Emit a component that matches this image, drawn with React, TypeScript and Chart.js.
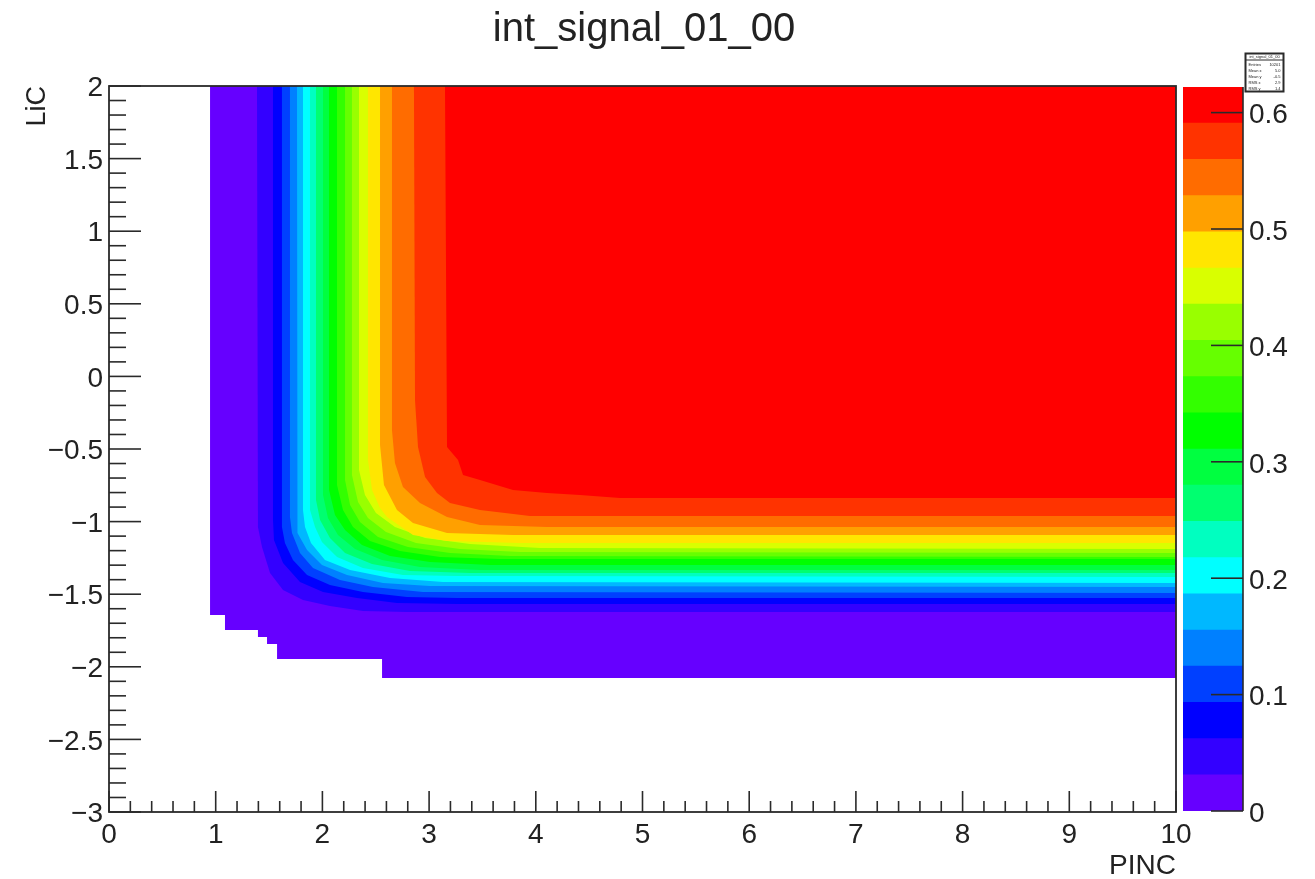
import React, { useEffect, useRef } from "react";
import { Chart, registerables } from "chart.js";

Chart.register(...registerables);

const titleText = "int_signal_01_00";
const xAxisTitle = "PINC";
const yAxisTitle = "LiC";

const xMajorTicks = [0, 1, 2, 3, 4, 5, 6, 7, 8, 9, 10];
const xMinorTicks = [0.2, 0.4, 0.6, 0.8, 1.2, 1.4, 1.6, 1.8, 2.2, 2.4, 2.6, 2.8, 3.2, 3.4, 3.6, 3.8, 4.2, 4.4, 4.6, 4.8, 5.2, 5.4, 5.6, 5.8, 6.2, 6.4, 6.6, 6.8, 7.2, 7.4, 7.6, 7.8, 8.2, 8.4, 8.6, 8.8, 9.2, 9.4, 9.6, 9.8];
const yMajorTicks = [-3, -2.5, -2, -1.5, -1, -0.5, 0, 0.5, 1, 1.5, 2];
const yMinorTicks = [-2.9, -2.8, -2.7, -2.6, -2.4, -2.3, -2.2, -2.1, -1.9, -1.8, -1.7, -1.6, -1.4, -1.3, -1.2, -1.1, -0.9, -0.8, -0.7, -0.6, -0.4, -0.3, -0.2, -0.1, 0.1, 0.2, 0.3, 0.4, 0.6, 0.7, 0.8, 0.9, 1.1, 1.2, 1.3, 1.4, 1.6, 1.7, 1.8, 1.9];
const colorTicks = [0, 0.1, 0.2, 0.3, 0.4, 0.5, 0.6];

const palette = ["#6600ff", "#3300ff", "#0000ff", "#0040ff", "#0080ff", "#00b8ff", "#00ffff", "#00ffc0", "#00ff70", "#00ff40", "#00ff00", "#33ff00", "#66ff00", "#99ff00", "#d9ff00", "#ffe600", "#ffa000", "#ff6c00", "#ff3300", "#ff0000"];
const bandEdges = [0, 0.0311, 0.0622, 0.0933, 0.1244, 0.1555, 0.1866, 0.2177, 0.2488, 0.2799, 0.311, 0.3421, 0.3732, 0.4043, 0.4354, 0.4665, 0.4976, 0.5287, 0.5598, 0.5909, 0.622];

const contour00 = [[0.947, 2], [0.947, -1.643], [1.087, -1.643], [1.087, -1.747], [1.396, -1.747], [1.396, -1.795], [1.481, -1.795], [1.481, -1.843], [1.575, -1.843], [1.575, -1.946], [2.559, -1.946], [2.559, -2.077], [10, -2.077]];
const contour01 = [[1.387, 2], [1.396, -1.037], [1.434, -1.175], [1.509, -1.354], [1.631, -1.471], [1.818, -1.54], [2.071, -1.581], [2.38, -1.616], [2.793, -1.623], [10, -1.623]];
const contour02 = [[1.537, 2], [1.537, -0.989], [1.546, -1.127], [1.631, -1.285], [1.79, -1.416], [2.006, -1.485], [2.324, -1.526], [2.699, -1.561], [3.262, -1.567], [10, -1.567]];
const contour03 = [[1.621, 2], [1.621, -1.037], [1.649, -1.147], [1.724, -1.264], [1.856, -1.368], [2.071, -1.437], [2.38, -1.485], [2.793, -1.519], [3.262, -1.526], [10, -1.526]];
const contour04 = [[1.696, 2], [1.696, -0.968], [1.715, -1.079], [1.79, -1.216], [1.912, -1.32], [2.165, -1.402], [2.474, -1.45], [2.943, -1.485], [10, -1.492]];
const contour05 = [[1.762, 2], [1.762, -0.941], [1.771, -1.079], [1.856, -1.196], [1.996, -1.299], [2.231, -1.368], [2.568, -1.423], [3.008, -1.444], [10, -1.45]];
const contour06 = [[1.818, 2], [1.818, -0.92], [1.837, -1.037], [1.893, -1.147], [2.024, -1.264], [2.259, -1.333], [2.634, -1.388], [3.13, -1.416], [10, -1.423]];
const contour07 = [[1.884, 2], [1.884, -0.92], [1.931, -1.037], [1.996, -1.14], [2.137, -1.244], [2.38, -1.32], [2.755, -1.368], [3.262, -1.375], [10, -1.382]];
const contour08 = [[1.94, 2], [1.94, -0.851], [1.978, -0.989], [2.071, -1.113], [2.212, -1.216], [2.465, -1.292], [2.821, -1.34], [3.383, -1.354], [10, -1.354]];
const contour09 = [[2.006, 2], [2.006, -0.817], [2.052, -0.975], [2.146, -1.092], [2.306, -1.189], [2.559, -1.264], [2.915, -1.313], [3.477, -1.333], [10, -1.333]];
const contour10 = [[2.062, 2], [2.062, -0.782], [2.118, -0.955], [2.212, -1.058], [2.371, -1.161], [2.634, -1.237], [3.008, -1.278], [3.571, -1.299], [10, -1.299]];
const contour11 = [[2.137, 2], [2.137, -0.748], [2.193, -0.92], [2.287, -1.037], [2.446, -1.134], [2.727, -1.202], [3.102, -1.244], [3.664, -1.258], [10, -1.258]];
const contour12 = [[2.212, 2], [2.212, -0.713], [2.259, -0.886], [2.352, -1.003], [2.521, -1.106], [2.802, -1.175], [3.196, -1.216], [3.758, -1.237], [10, -1.244]];
const contour13 = [[2.277, 2], [2.277, -0.679], [2.334, -0.865], [2.427, -0.975], [2.596, -1.072], [2.877, -1.147], [3.29, -1.189], [3.852, -1.209], [10, -1.216]];
const contour14 = [[2.343, 2], [2.343, -0.645], [2.399, -0.817], [2.502, -0.941], [2.68, -1.037], [2.962, -1.113], [3.383, -1.154], [4.039, -1.182], [10, -1.189]];
const contour15 = [[2.427, 2], [2.427, -0.576], [2.465, -0.782], [2.54, -0.906], [2.605, -0.968], [2.849, -1.092], [3.168, -1.134], [3.852, -1.147], [10, -1.147]];
const contour16 = [[2.54, 2], [2.54, -0.472], [2.577, -0.748], [2.699, -0.92], [2.849, -1.01], [3.168, -1.079], [3.786, -1.092], [10, -1.092]];
const contour17 = [[2.652, 2], [2.652, -0.369], [2.68, -0.596], [2.755, -0.762], [2.915, -0.872], [3.168, -0.968], [3.477, -1.023], [4.105, -1.037], [10, -1.037]];
const contour18 = [[2.858, 2], [2.868, -0.163], [2.896, -0.486], [2.962, -0.693], [3.074, -0.803], [3.196, -0.872], [3.477, -0.92], [3.946, -0.961], [10, -0.961]];
const contour19 = [[3.149, 2], [3.168, -0.486], [3.271, -0.576], [3.318, -0.679], [3.477, -0.713], [3.786, -0.782], [4.105, -0.803], [4.414, -0.817], [4.789, -0.837], [10, -0.837]];

const contours = [contour00, contour01, contour02, contour03, contour04, contour05, contour06, contour07, contour08, contour09, contour10, contour11, contour12, contour13, contour14, contour15, contour16, contour17, contour18, contour19];

const statsHeader = "int_signal_01_00";
const statsLabels = ["Entries", "Mean x", "Mean y", "RMS x", "RMS y"];
const statsValues = ["10201", "5.0", "-0.5", "2.9", "1.4"];

const fontFamily = '"Liberation Sans", Arial, sans-serif';
const inkColor = "#222222";
const lineColor = "#2a2a2a";
const formatTick = (v: number) => String(v).replace("-", "\u2212");

const mainDecor = {
  id: "mainDecor",
  afterDatasetsDraw(chart: any) {
    const { ctx, chartArea: a, scales } = chart;
    ctx.save();
    ctx.strokeStyle = lineColor;
    const mark = (x1: number, y1: number, x2: number, y2: number) => {
      ctx.beginPath();
      ctx.moveTo(x1, y1);
      ctx.lineTo(x2, y2);
      ctx.stroke();
    };
    ctx.lineWidth = 1.6;
    xMajorTicks.forEach((v) => { const p = scales.x.getPixelForValue(v); mark(p, a.bottom, p, a.bottom - 21); });
    xMinorTicks.forEach((v) => { const p = scales.x.getPixelForValue(v); mark(p, a.bottom, p, a.bottom - 11); });
    yMajorTicks.forEach((v) => { const p = scales.y.getPixelForValue(v); mark(a.left, p, a.left + 32, p); });
    yMinorTicks.forEach((v) => { const p = scales.y.getPixelForValue(v); mark(a.left, p, a.left + 17, p); });
    ctx.lineWidth = 1.8;
    ctx.strokeRect(a.left, a.top, a.right - a.left, a.bottom - a.top);
    ctx.restore();
  },
};

const barDecor = {
  id: "barDecor",
  afterDatasetsDraw(chart: any) {
    const { ctx, chartArea: a, scales } = chart;
    ctx.save();
    ctx.strokeStyle = lineColor;
    ctx.lineWidth = 1.6;
    ctx.beginPath();
    ctx.moveTo(a.right, a.top);
    ctx.lineTo(a.right, a.bottom);
    ctx.stroke();
    colorTicks.forEach((v) => {
      const p = scales.y.getPixelForValue(v);
      ctx.beginPath();
      ctx.moveTo(a.right, p);
      ctx.lineTo(a.right - 32, p);
      ctx.stroke();
    });
    // small statistics box
    const bx = a.right + 2.5, by = a.top - 33.5, bw = 38, bh = 38;
    ctx.fillStyle = "#ffffff";
    ctx.fillRect(bx, by, bw, bh);
    ctx.lineWidth = 2;
    ctx.strokeRect(bx, by, bw, bh);
    ctx.lineWidth = 1;
    ctx.beginPath();
    ctx.moveTo(bx, by + 6.5);
    ctx.lineTo(bx + bw, by + 6.5);
    ctx.stroke();
    ctx.fillStyle = inkColor;
    ctx.font = `4px ${fontFamily}`;
    ctx.textBaseline = "middle";
    ctx.textAlign = "center";
    ctx.fillText(statsHeader, bx + bw / 2, by + 3.5);
    statsLabels.forEach((label, i) => {
      const ty = by + 11 + i * 6;
      ctx.textAlign = "left";
      ctx.fillText(label, bx + 3, ty);
      ctx.textAlign = "right";
      ctx.fillText(statsValues[i], bx + bw - 3, ty);
    });
    ctx.restore();
  },
};

export default function App() {
  const mainRef = useRef<HTMLCanvasElement | null>(null);
  const barRef = useRef<HTMLCanvasElement | null>(null);

  useEffect(() => {
    const main = new Chart(mainRef.current as HTMLCanvasElement, {
      type: "scatter",
      data: {
        datasets: contours.map((points, k) => ({
          label: `band ${k}`,
          data: [...points, [10, 2]].map(([x, y]) => ({ x, y })),
          showLine: true,
          fill: "shape",
          backgroundColor: palette[k],
          borderColor: palette[k],
          borderWidth: 0,
          pointRadius: 0,
          tension: 0,
          order: contours.length - k,
        })),
      },
      options: {
        animation: false,
        responsive: false,
        layout: { autoPadding: false, padding: { top: 86, right: 139, left: 0, bottom: 0 } },
        plugins: {
          legend: { display: false },
          tooltip: { enabled: false },
          title: { display: false },
        },
        scales: {
          x: {
            type: "linear",
            min: 0,
            max: 10,
            afterFit: (s: any) => { s.height = 67; },
            afterBuildTicks: (s: any) => { s.ticks = xMajorTicks.map((value) => ({ value })); },
            grid: { display: false, drawTicks: false },
            border: { display: false },
            ticks: { color: inkColor, font: { family: fontFamily, size: 28 }, padding: 6, maxRotation: 0, autoSkip: false, callback: formatTick },
            title: { display: true, text: xAxisTitle, align: "end", color: inkColor, font: { family: fontFamily, size: 28 }, padding: { top: 0, bottom: -4 } },
          },
          y: {
            type: "linear",
            min: -3,
            max: 2,
            afterFit: (s: any) => { s.width = 109; },
            afterBuildTicks: (s: any) => { s.ticks = yMajorTicks.map((value) => ({ value })); },
            grid: { display: false, drawTicks: false },
            border: { display: false },
            ticks: { color: inkColor, font: { family: fontFamily, size: 28 }, padding: 6, autoSkip: false, labelOffset: 2.5, callback: formatTick },
            title: { display: true, text: yAxisTitle, align: "end", color: inkColor, font: { family: fontFamily, size: 27 }, padding: { top: 21, bottom: 0 } },
          },
        },
      },
      plugins: [mainDecor, {
        id: "topTitle",
        afterDraw(chart: any) {
          const { ctx } = chart;
          ctx.save();
          ctx.fillStyle = inkColor;
          ctx.font = `40px ${fontFamily}`;
          ctx.textAlign = "center";
          ctx.textBaseline = "alphabetic";
          ctx.fillText(titleText, 644, 41);
          ctx.restore();
        },
      }],
    } as any);

    const bar = new Chart(barRef.current as HTMLCanvasElement, {
      type: "bar",
      data: {
        labels: ["palette"],
        datasets: palette.map((color, k) => ({
          label: `level ${k}`,
          data: [[bandEdges[k], bandEdges[k + 1]]],
          backgroundColor: color,
          borderWidth: 0,
          barPercentage: 1,
          categoryPercentage: 1,
          grouped: false,
        })),
      },
      options: {
        animation: false,
        responsive: false,
        layout: { autoPadding: false, padding: { top: 47, right: 0, left: 5, bottom: 68 } },
        plugins: { legend: { display: false }, tooltip: { enabled: false } },
        scales: {
          x: { display: false, stacked: false },
          y: {
            position: "right",
            min: 0,
            max: 0.622,
            afterFit: (s: any) => { s.width = 72; },
            afterBuildTicks: (s: any) => { s.ticks = colorTicks.map((value) => ({ value })); },
            grid: { display: false, drawTicks: false },
            border: { display: false },
            ticks: { color: inkColor, font: { family: fontFamily, size: 28 }, padding: 6, autoSkip: false, labelOffset: 3, callback: (v: number) => String(v) },
          },
        },
      },
      plugins: [barDecor],
    } as any);

    return () => {
      main.destroy();
      bar.destroy();
    };
  }, []);

  const soft = "blur(0.5px)";
  return (
    <div>
      <canvas ref={mainRef} width={1315} height={879} style={{ position: "absolute", left: 0, top: 0, width: 1315, height: 879, filter: soft }} />
      <canvas ref={barRef} width={137} height={839} style={{ position: "absolute", left: 1178, top: 40, width: 137, height: 839, filter: soft }} />
    </div>
  );
}
